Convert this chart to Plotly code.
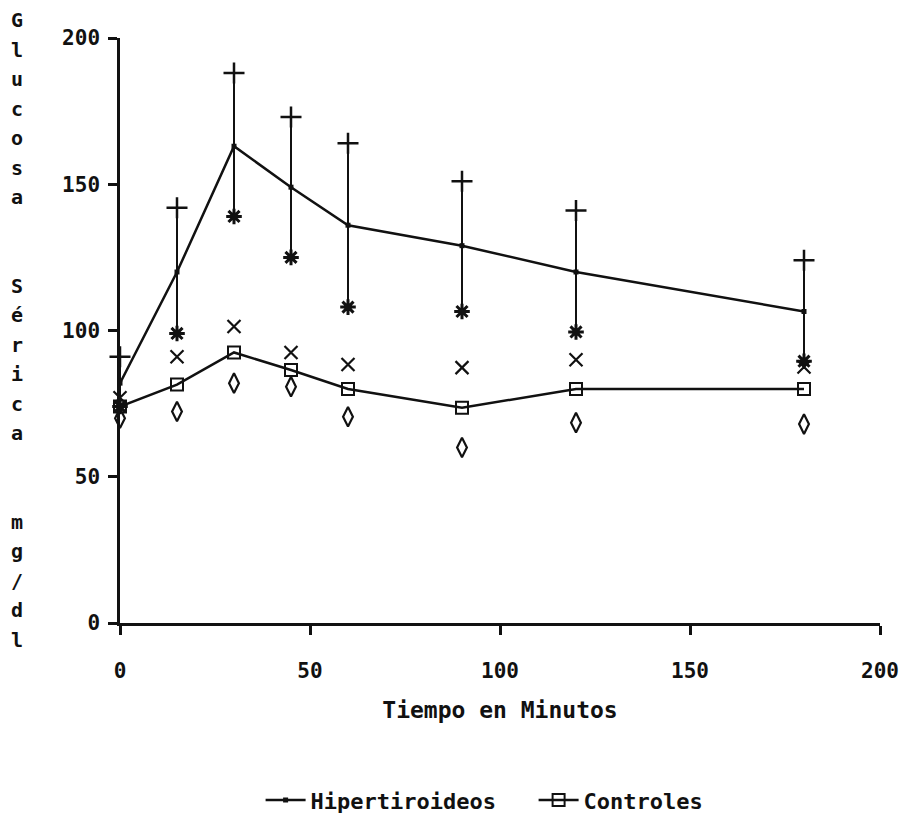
import plotly.graph_objects as go

# ---- data ----
tiempo = [0, 15, 30, 45, 60, 90, 120, 180]
hiper_media = [82, 120, 163, 149, 136, 129, 120, 106.5]
hiper_sup = [91, 142, 188, 173, 164, 151, 141, 124]
hiper_inf = [74, 99, 139, 125, 108, 106.5, 99.5, 89.5]
ctrl_media = [74, 81.5, 92.5, 86.5, 80, 73.6, 80, 80]
ctrl_sup = [77, 91, 101.4, 92.5, 88.4, 87.3, 90, 87.5]
ctrl_inf = [70, 72.3, 82, 80.8, 70.5, 60, 68.5, 68]

x_ticks = [0, 50, 100, 150, 200]
y_ticks = [0, 50, 100, 150, 200]
y_title = "Glucosa  Sérica  mg/dl"
x_title = "Tiempo en Minutos"

FONT = "DejaVu Sans Mono"
BLACK = "#111111"

err_plus = [s - m for s, m in zip(hiper_sup, hiper_media)]
err_minus = [m - i for m, i in zip(hiper_media, hiper_inf)]

fig = go.Figure()

# Hipertiroideos
fig.add_trace(go.Scatter(
    x=tiempo, y=hiper_media, mode="lines+markers", name="Hipertiroideos",
    line=dict(color=BLACK, width=2.5),
    marker=dict(symbol="square", size=5, color=BLACK),
    error_y=dict(type="data", symmetric=False, array=err_plus, arrayminus=err_minus,
                 color=BLACK, thickness=2, width=0),
    cliponaxis=False,
))
fig.add_trace(go.Scatter(
    x=tiempo, y=hiper_sup, mode="markers", showlegend=False,
    marker=dict(symbol="cross-thin", size=15, color=BLACK, line=dict(color=BLACK, width=2.5)),
    cliponaxis=False,
))
fig.add_trace(go.Scatter(
    x=tiempo, y=hiper_inf, mode="markers", showlegend=False,
    marker=dict(symbol="asterisk-open", size=13, color=BLACK, line=dict(color=BLACK, width=3)),
    cliponaxis=False,
))

# Controles
fig.add_trace(go.Scatter(
    x=tiempo, y=ctrl_media, mode="lines+markers", name="Controles",
    line=dict(color=BLACK, width=2.5),
    marker=dict(symbol="square-open", size=12, color=BLACK, line=dict(color=BLACK, width=2)),
    cliponaxis=False,
))
fig.add_trace(go.Scatter(
    x=tiempo, y=ctrl_sup, mode="markers", showlegend=False,
    marker=dict(symbol="x-thin", size=13, color=BLACK, line=dict(color=BLACK, width=2.2)),
    cliponaxis=False,
))
fig.add_trace(go.Scatter(
    x=tiempo, y=ctrl_inf, mode="markers", showlegend=False,
    marker=dict(symbol="diamond-tall-open", size=14, color=BLACK, line=dict(color=BLACK, width=2.2)),
    cliponaxis=False,
))

# vertical stacked y-axis title
annotations = []
n_lines = len(y_title)
top, bottom = 1.0 + 18 / 585, -(640 - 623) / 585
step = (top - bottom) / (n_lines - 1)
for i, ch in enumerate(y_title):
    if ch == " ":
        continue
    annotations.append(dict(
        text=ch, xref="paper", yref="paper", x=-(120 - 17) / 760, y=top - i * step,
        xanchor="center", yanchor="middle", showarrow=False,
        font=dict(family=FONT, size=20, color=BLACK, weight="bold"),
    ))

fig.update_layout(
    width=900, height=819,
    margin=dict(l=120, r=20, t=38, b=196, autoexpand=False),
    paper_bgcolor="white", plot_bgcolor="white",
    font=dict(family=FONT, color=BLACK, weight="bold"),
    xaxis=dict(
        range=[0, 200], tickvals=x_ticks, ticktext=[str(v) for v in x_ticks],
        showgrid=False, zeroline=False, showline=True, linecolor=BLACK, linewidth=2.5,
        ticks="outside", ticklen=9, tickwidth=2.5, tickcolor=BLACK,
        tickfont=dict(family=FONT, size=21, color=BLACK, weight="bold"),
        ticklabelstandoff=18, automargin=False,
        title=dict(text=x_title, font=dict(family=FONT, size=23, color=BLACK, weight="bold"),
                   standoff=20),
    ),
    yaxis=dict(
        range=[0, 200], tickvals=y_ticks, ticktext=[str(v) for v in y_ticks],
        showgrid=False, zeroline=False, showline=True, linecolor=BLACK, linewidth=2.5,
        ticks="outside", ticklen=9, tickwidth=2.5, tickcolor=BLACK,
        tickfont=dict(family=FONT, size=21, color=BLACK, weight="bold"),
        ticklabelstandoff=4, automargin=False,
    ),
    legend=dict(
        orientation="h", x=0.185, y=-0.303, xanchor="left", yanchor="middle",
        font=dict(family=FONT, size=22, color=BLACK, weight="bold"),
        itemwidth=40, entrywidth=218, bgcolor="rgba(0,0,0,0)",
    ),
    annotations=annotations,
    showlegend=True,
)

fig.write_html("out.html")
